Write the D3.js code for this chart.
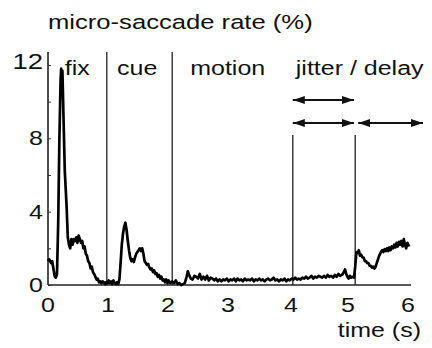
<!DOCTYPE html>
<html>
<head>
<meta charset="utf-8">
<script src="https://cdn.jsdelivr.net/npm/d3@7"></script>
<style>
  html, body { margin: 0; padding: 0; background: #fff; }
  svg { display: block; }
  text { font-family: "Liberation Sans", Arial, Helvetica, sans-serif; fill: #111; }
</style>
</head>
<body>
<svg id="chart" width="432" height="348"></svg>
<script>
// ---- data ----
const times = [
  0.00,0.02,0.05,0.07,0.09,0.11,0.13,0.15,0.17,0.19,0.21,0.22,0.23,0.24,0.26,0.28,0.31,0.33,0.35,0.37,
  0.39,0.41,0.43,0.45,0.47,0.49,0.51,0.53,0.55,0.57,0.59,0.61,0.63,0.65,0.67,0.69,0.71,0.73,0.75,0.77,
  0.79,0.81,0.83,0.85,0.87,0.89,0.91,0.93,0.95,0.97,0.99,
  1.01,1.03,1.05,1.07,1.09,1.11,1.13,1.15,1.17,1.19,1.21,1.23,1.25,1.27,1.29,1.31,1.33,1.35,1.37,1.39,
  1.41,1.43,1.45,1.47,1.49,1.51,1.53,1.55,1.57,1.59,1.61,1.63,1.65,1.67,1.69,1.71,1.73,1.75,1.77,1.79,
  1.81,1.83,1.85,1.87,1.89,1.91,1.93,1.95,1.97,1.99,
  2.01,2.04,2.07,2.10,2.13,2.16,2.19,2.22,2.25,2.28,2.31,2.33,2.35,2.38,2.41,2.44,2.47,2.50,2.53,2.56,
  2.59,2.62,2.65,2.68,2.71,2.74,2.77,2.80,2.83,2.86,2.89,2.92,2.95,2.98,3.01,3.04,3.07,3.10,3.13,3.16,
  3.19,3.22,3.25,3.28,3.31,3.34,3.37,3.40,3.43,3.46,3.49,3.52,3.55,3.58,3.61,3.64,3.67,3.70,3.73,3.76,
  3.79,3.82,3.85,3.88,3.91,3.94,3.97,4.00,
  4.03,4.06,4.09,4.12,4.15,4.18,4.21,4.24,4.27,4.30,4.33,4.36,4.39,4.42,4.45,4.48,4.51,4.54,4.57,4.60,
  4.63,4.66,4.69,4.72,4.75,4.78,4.81,4.84,4.87,4.90,4.93,4.95,4.97,4.99,5.01,5.03,5.05,5.07,5.10,5.12,
  5.14,5.16,5.18,5.20,5.22,5.24,5.26,5.28,5.30,5.32,5.34,5.36,5.38,5.40,5.42,5.44,5.46,5.49,5.52,5.55,
  5.57,5.59,5.61,5.63,5.65,5.67,5.69,5.71,5.73,5.75,5.77,5.79,5.81,5.83,5.85,5.87,5.89,5.91,5.93,5.95,
  5.97,5.99,6.02
];
const rates = [
  1.3,1.4,1.2,1.3,0.9,0.5,0.4,0.6,3.4,8.0,11.2,11.8,11.5,11.7,8.9,6.2,4.3,2.6,2.2,2.0,
  2.5,2.2,2.5,2.4,2.6,2.3,2.7,2.5,2.3,2.4,2.0,2.1,1.7,1.6,1.3,1.2,0.9,1.0,0.7,0.6,
  0.45,0.3,0.35,0.15,0.2,0.1,0.2,0.15,0.05,0.15,0.1,
  0.25,0.1,0.2,0.05,0.25,0.1,0.05,0.15,0.05,0.3,1.2,2.2,2.8,3.2,3.4,3.0,2.4,1.9,1.5,1.3,
  1.4,1.25,1.5,1.7,1.8,1.9,2.0,1.85,2.0,1.7,1.3,1.2,1.1,1.15,0.95,0.85,0.9,0.7,0.8,0.6,
  0.65,0.45,0.55,0.35,0.45,0.25,0.3,0.15,0.3,0.1,
  0.25,0.1,0.2,0.1,0.25,0.05,0.1,0.0,0.05,0.1,0.45,0.75,0.55,0.35,0.3,0.5,0.45,0.35,0.6,0.3,
  0.45,0.3,0.5,0.25,0.4,0.35,0.25,0.35,0.2,0.3,0.2,0.3,0.25,0.35,0.2,0.3,0.25,0.35,0.2,0.35,
  0.25,0.3,0.2,0.35,0.25,0.3,0.25,0.35,0.2,0.3,0.25,0.35,0.25,0.3,0.2,0.3,0.35,0.25,0.3,0.4,
  0.25,0.3,0.2,0.3,0.25,0.35,0.2,0.3,
  0.25,0.35,0.3,0.4,0.3,0.35,0.3,0.4,0.35,0.45,0.35,0.4,0.5,0.35,0.45,0.4,0.5,0.45,0.4,0.5,
  0.4,0.55,0.45,0.5,0.4,0.55,0.45,0.6,0.5,0.55,0.7,0.85,0.6,0.45,0.35,0.5,0.4,0.45,0.4,1.0,
  1.8,1.75,1.9,1.6,1.65,1.5,1.5,1.3,1.3,1.2,1.2,1.05,1.05,0.95,1.0,0.9,1.0,1.3,1.6,1.8,
  1.9,1.8,1.95,1.85,2.0,1.85,2.05,1.9,2.1,2.0,2.2,2.05,2.3,2.1,2.35,2.2,2.4,2.1,2.5,2.2,
  2.0,2.3,2.1
];
const yTicks = [0, 4, 8, 12];
const yMinorTicks = [0, 2, 4, 6, 8, 10, 12];
const xTicks = [0, 1, 2, 3, 4, 5, 6];
const eventTimes = [0.98, 2.07, 4.08, 5.12];
const eventFullHeight = [true, true, false, false];
const epochLabels = ["fix", "cue", "motion", "jitter / delay"];
const epochLabelTimes = [0.28, 1.15, 2.37, 4.13];
// arrows: [start, end, row]
const arrowStarts = [4.08, 4.08, 5.17];
const arrowEnds = [5.10, 5.10, 6.25];
const arrowRows = [0, 1, 1];

// ---- layout ----
const svg = d3.select("#chart");
const x = d3.scaleLinear().domain([0, 6]).range([48, 408]);
const y = d3.scaleLinear().domain([0, 12]).range([285, 65]);
const fs = 20;
const sx = 1.25; // horizontal stretch of the reference lettering

function label(g, tx, ty, str, size, anchor) {
  return g.append("text")
    .attr("transform", `translate(${tx},${ty}) scale(${sx},1)`)
    .attr("text-anchor", anchor || "start")
    .attr("font-size", size).text(str);
}

// title
label(svg, 48, 29, "micro-saccade rate (%)", 20.5);

// y axis
const yAxis = d3.axisRight(y).tickValues(yMinorTicks).tickSize(3).tickFormat("");
const gy = svg.append("g").attr("transform", `translate(${x(0)},0)`).call(yAxis);
gy.select(".domain").remove();
gy.selectAll("line").attr("stroke", "#333").attr("stroke-width", 1);
svg.append("line").attr("x1", x(0)).attr("x2", x(0)).attr("y1", 52).attr("y2", y(0))
  .attr("stroke", "#222").attr("stroke-width", 1.6);
yTicks.forEach(d => {
  label(svg, 43, y(d) + 7 - (d === 12 ? 3 : 0), String(d), d === 12 ? 22 : fs, "end");
});

// x axis
svg.append("line").attr("x1", x(0)).attr("x2", 411).attr("y1", y(0)).attr("y2", y(0))
  .attr("stroke", "#222").attr("stroke-width", 1.6);
xTicks.forEach(d => {
  label(svg, x(d) + (d === 4 ? 3 : 0), 312, String(d), fs, "middle");
});
label(svg, 421, 337, "time (s)", fs, "end");

// event lines
svg.append("g").selectAll("line").data(eventTimes).join("line")
  .attr("x1", d => x(d)).attr("x2", d => x(d))
  .attr("y1", (d, i) => eventFullHeight[i] ? 52 : 135).attr("y2", y(0))
  .attr("stroke", "#222").attr("stroke-width", 1.3);

// epoch labels
epochLabels.forEach((d, i) => {
  label(svg, x(epochLabelTimes[i]), 75, d, fs);
});

// arrows
const rowY = [100, 123];
const defs = svg.append("defs");
["start", "end"].forEach(k => {
  defs.append("marker").attr("id", "ah-" + k)
    .attr("viewBox", "0 0 12 8").attr("refX", k === "end" ? 12 : 0).attr("refY", 4)
    .attr("markerWidth", 12).attr("markerHeight", 8).attr("markerUnits", "userSpaceOnUse")
    .attr("orient", "auto")
    .append("path").attr("d", k === "end" ? "M0,0 L12,4 L0,8 Z" : "M12,0 L0,4 L12,8 Z")
    .attr("fill", "#111");
});
svg.append("g").selectAll("line").data(arrowStarts).join("line")
  .attr("x1", d => x(d)).attr("x2", (d, i) => x(arrowEnds[i]))
  .attr("y1", (d, i) => rowY[arrowRows[i]]).attr("y2", (d, i) => rowY[arrowRows[i]])
  .attr("stroke", "#111").attr("stroke-width", 2)
  .attr("marker-start", "url(#ah-start)").attr("marker-end", "url(#ah-end)");

// trace
const pts = times.map((t, i) => [t, rates[i]]);
svg.append("path").datum(pts)
  .attr("d", d3.line().x(d => x(d[0])).y(d => y(d[1])))
  .attr("fill", "none").attr("stroke", "#000").attr("stroke-width", 2.7)
  .attr("stroke-linejoin", "round");
</script>
</body>
</html>
